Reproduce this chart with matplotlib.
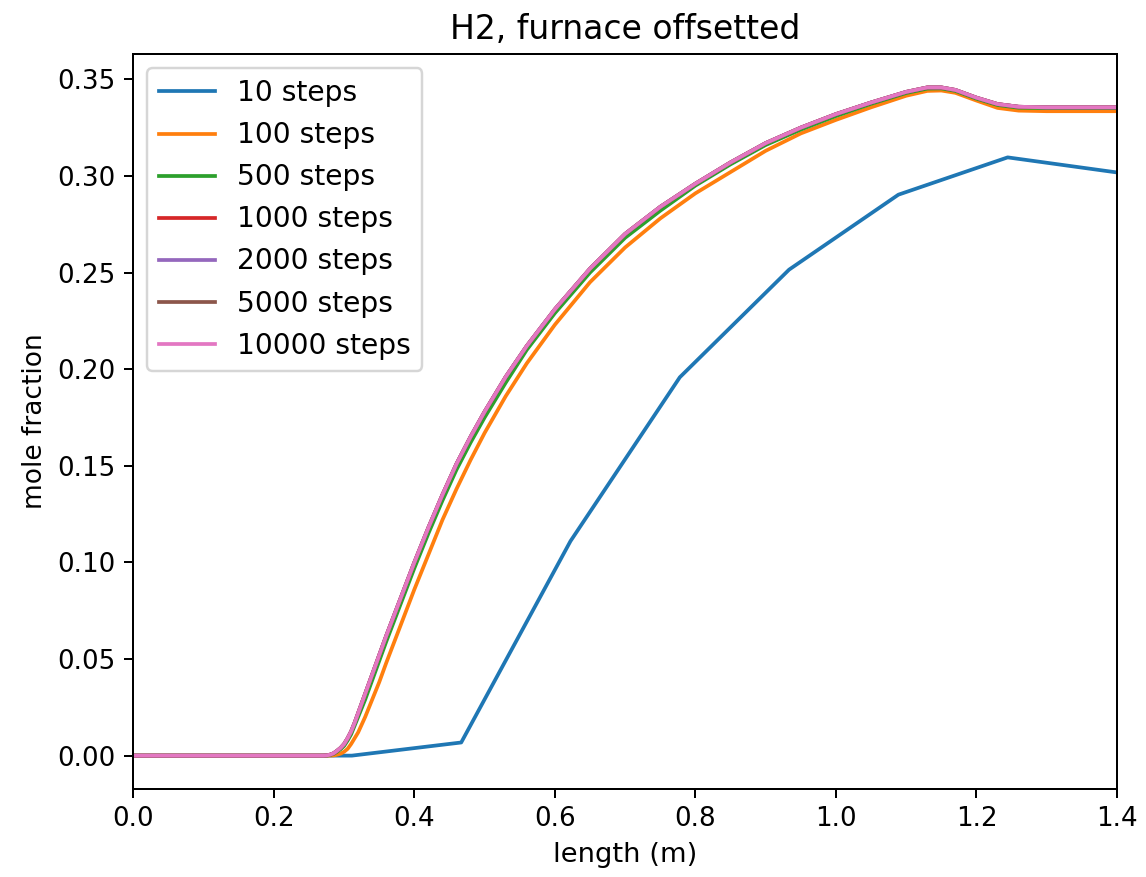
import matplotlib
matplotlib.use("Agg")
import matplotlib.pyplot as plt

# 10-step solution (coarse grid)
x_10 = [0.0, 0.1556, 0.3111, 0.4667, 0.6222, 0.7778, 0.9333, 1.0889, 1.2444, 1.4]
h2_10 = [0.0, 0.0, 0.0, 0.0068, 0.111, 0.1958, 0.2515, 0.2903, 0.3096, 0.3018]

# finer solutions, sampled along length
x_fine = [0.0, 0.10, 0.20, 0.27, 0.275, 0.28, 0.285, 0.29, 0.295, 0.30, 0.305, 0.31,
          0.315, 0.32, 0.33, 0.34, 0.35, 0.36, 0.38, 0.40, 0.42, 0.44, 0.46, 0.48,
          0.50, 0.53, 0.56, 0.60, 0.65, 0.70, 0.75, 0.80, 0.85, 0.90, 0.95, 1.00,
          1.05, 1.10, 1.13, 1.15, 1.17, 1.20, 1.23, 1.26, 1.30, 1.40]

h2_100 = [0.0, 0.0, 0.0, 0.0, 0.0, 0.0, 0.0001, 0.0005, 0.001, 0.002, 0.0035, 0.006,
          0.009, 0.012, 0.020, 0.029, 0.038, 0.048, 0.067, 0.086, 0.104, 0.122, 0.138, 0.153,
          0.167, 0.186, 0.203, 0.223, 0.245, 0.263, 0.278, 0.291, 0.302, 0.313, 0.322, 0.329,
          0.3355, 0.3415, 0.3440, 0.3442, 0.3430, 0.3390, 0.3352, 0.3338, 0.3335, 0.3335]

h2_500 = [0.0, 0.0, 0.0, 0.0, 0.0, 0.0003, 0.0009, 0.002, 0.0033, 0.005, 0.0078, 0.011,
          0.0155, 0.020, 0.029, 0.039, 0.049, 0.059, 0.078, 0.097, 0.115, 0.132, 0.148, 0.162,
          0.175, 0.193, 0.210, 0.229, 0.250, 0.268, 0.282, 0.295, 0.306, 0.316, 0.324, 0.331,
          0.3373, 0.3429, 0.3452, 0.3453, 0.3440, 0.3400, 0.3367, 0.3353, 0.3351, 0.3351]

h2_1000 = [0.0, 0.0, 0.0, 0.0, 0.0001, 0.0005, 0.0012, 0.0025, 0.004, 0.006, 0.009, 0.0125,
           0.017, 0.022, 0.032, 0.042, 0.052, 0.062, 0.081, 0.100, 0.118, 0.135, 0.151, 0.165,
           0.178, 0.196, 0.212, 0.231, 0.252, 0.270, 0.284, 0.296, 0.307, 0.317, 0.325, 0.332,
           0.338, 0.3435, 0.3458, 0.3458, 0.3445, 0.3405, 0.3372, 0.3358, 0.3355, 0.3355]
h2_2000 = h2_1000
h2_5000 = h2_1000
h2_10000 = h2_1000

labels = ["10 steps", "100 steps", "500 steps", "1000 steps",
          "2000 steps", "5000 steps", "10000 steps"]

plt.rcParams["font.size"] = 10.5

fig = plt.figure(figsize=(1146 / 179, 877 / 179), dpi=179)
ax = fig.add_axes([0.1163, 0.1003, 0.9747 - 0.1163, 0.9384 - 0.1003])

ax.plot(x_10, h2_10, label=labels[0])
ax.plot(x_fine, h2_100, label=labels[1])
ax.plot(x_fine, h2_500, label=labels[2])
ax.plot(x_fine, h2_1000, label=labels[3])
ax.plot(x_fine, h2_2000, label=labels[4])
ax.plot(x_fine, h2_5000, label=labels[5])
ax.plot(x_fine, h2_10000, label=labels[6])

ax.set_xlim(0, 1.4)
ax.tick_params(labelsize=10.5)
ax.set_xlabel("length (m)", fontsize=11)
ax.set_ylabel("mole fraction", fontsize=10.6)
ax.set_title("H2, furnace offsetted", fontsize=13.3)
ax.legend(loc="upper left", fontsize=11.3)

fig.savefig("out.png", dpi=179)
